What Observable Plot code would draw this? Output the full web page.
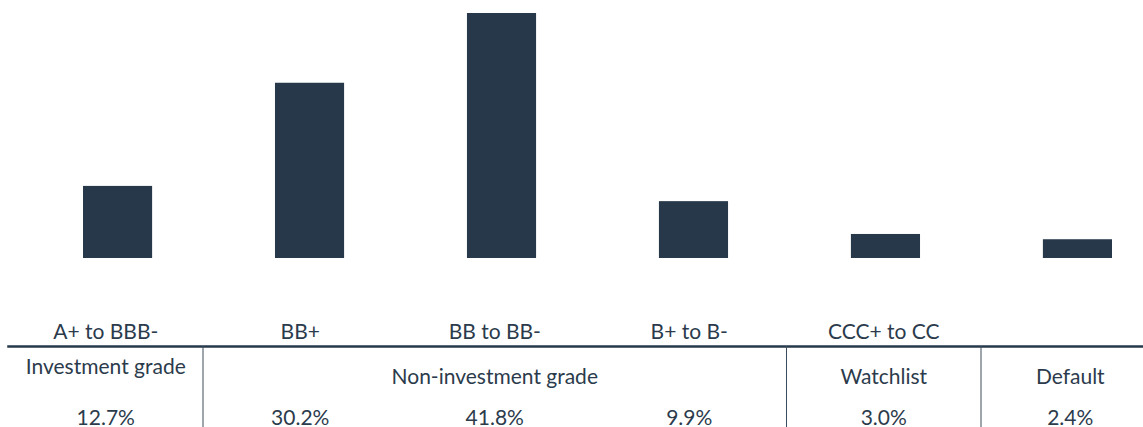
<!DOCTYPE html>
<html><head><meta charset="utf-8">
<script src="https://cdn.jsdelivr.net/npm/d3@7"></script>
<script src="https://cdn.jsdelivr.net/npm/@observablehq/plot@0.6"></script>
<style>
html,body{margin:0;padding:0;background:#fff;}
#chart{width:1143px;overflow:hidden;}
#chart svg{display:block;}
</style></head><body><div id="chart"></div>
<script>
// Data
const ratings = ["A+ to BBB-","BB+","BB to BB-","B+ to B-","CCC+ to CC",""];
const groups = ["Investment grade","Non-investment grade","Non-investment grade","Non-investment grade","Watchlist","Default"];
const shares = [12.7,30.2,41.8,9.9,3.0,2.4];
const barHeights = [12.3,29.9,41.8,9.7,4.1,3.2]; // bar heights as drawn in the picture

const navy = "#26384a";
const textColor = "#2b3b4c";
const font = "Lato, 'Open Sans', sans-serif";
const fs = 21;

const rows = ratings.map((r,i)=>({i, rating:r, group:groups[i], share:shares[i], bar:barHeights[i]}));

// group spans derived from the group of each category
const spans = [];
groups.forEach((g,i)=>{
  const last = spans[spans.length-1];
  if (last && last.group===g) last.end = i+1; else spans.push({group:g, start:i, end:i+1});
});
const dividers = spans.slice(1).map(s=>s.start);

const bars = Plot.plot({
  width:1143, height:270, marginTop:13, marginBottom:12, marginLeft:83, marginRight:31,
  x:{type:"band", domain:d3.range(6), paddingInner:0.64, paddingOuter:0, axis:null, round:false},
  y:{domain:[0,41.8], axis:null},
  marks:[Plot.barY(rows,{x:"i", y:"bar", fill:navy})]
});

const lastIdx = ratings.length-1;
const common = {frameAnchor:"top", lineAnchor:"bottom", fill:textColor, fontSize:fs};
const table = Plot.plot({
  width:1143, height:157, marginTop:76, marginBottom:0, marginLeft:8, marginRight:-32,
  x:{type:"linear", domain:[0,6], axis:null},
  style:{fontFamily:font, fontSize:fs+"px", color:textColor, overflow:"hidden"},
  marks:[
    Plot.frame({anchor:"top", stroke:navy, strokeWidth:2.5}),
    Plot.ruleX(dividers,{x:d=>d, stroke:"#3c4c5c", strokeWidth:1}),
    Plot.text(rows,{...common, x:d=>d.i+0.5, text:"rating", dy:-8}),
    Plot.text(spans.filter(s=>s.start===0),{...common, x:d=>(d.start+d.end)/2, text:"group", dy:27}),
    Plot.text(spans.filter(s=>s.start>0 && s.end<=lastIdx),{...common, x:d=>(d.start+d.end)/2, text:"group", dy:37}),
    Plot.text(spans.filter(s=>s.end>lastIdx),{...common, x:d=>(d.start+d.end)/2, text:"group", dy:37, dx:-8}),
    Plot.text(rows.filter(d=>d.i<lastIdx),{...common, x:d=>d.i+0.5, text:d=>d.share.toFixed(1)+"%", dy:78}),
    Plot.text(rows.filter(d=>d.i===lastIdx),{...common, x:d=>d.i+0.5, text:d=>d.share.toFixed(1)+"%", dy:78, dx:-8})
  ]
});

const el = document.getElementById("chart");
el.appendChild(bars);
el.appendChild(table);
</script>
</body></html>
